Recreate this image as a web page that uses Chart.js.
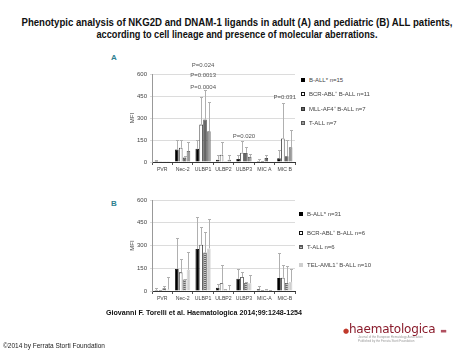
<!DOCTYPE html>
<html><head><meta charset="utf-8">
<script src="https://cdn.jsdelivr.net/npm/chart.js@4"></script>
<style>
html,body{margin:0;padding:0;background:#fff}
body{width:474px;height:355px;position:relative;overflow:hidden;font-family:"Liberation Sans",Arial,sans-serif}
.abs{position:absolute;white-space:nowrap}
.title{font-weight:bold;font-size:10px;color:#111;left:0;width:474px;text-align:center;line-height:12px}
.panel{font-weight:bold;font-size:8px;color:#2f7f8f}
.leg{font-size:6px;color:#444;line-height:8px}
.mk{display:inline-block;width:4px;height:4px;margin-right:4px;vertical-align:middle;box-sizing:border-box}
canvas{position:absolute}
</style></head><body>
<div class="abs title" id="t1" style="top:17px">Phenotypic analysis of NKG2D and DNAM-1 ligands in adult (A) and pediatric (B) ALL patients,</div>
<div class="abs title" id="t2" style="top:29px">according to cell lineage and presence of molecular aberrations.</div>
<div class="abs panel" style="left:111px;top:53px">A</div>
<div class="abs panel" style="left:111px;top:199px">B</div>
<canvas id="cA" width="175" height="125" style="left:125px;top:55px"></canvas>
<canvas id="cB" width="175" height="125" style="left:125px;top:185px"></canvas>
<div id="legA"></div><div id="legB"></div>
<div class="abs" id="cite" style="left:106px;top:308px;font-weight:bold;font-size:8px;color:#111">Giovanni F. Torelli et al. Haematologica 2014;99:1248-1254</div>
<div class="abs" style="left:3px;top:342px;font-size:6.5px;color:#222">©2014 by Ferrata Storti Foundation</div>
<div class="abs" id="logo" style="left:343px;top:322px;font-size:12px;color:#8a1c2c;font-family:'DejaVu Sans',sans-serif;letter-spacing:-0.2px"><span style="color:#c0392b;font-size:7px">●</span>haematologica<span style="color:#b05060;font-size:7px;margin-left:5px">▬</span></div>
<div class="abs" style="left:358px;top:336px;font-size:3px;color:#999;line-height:3.5px">Journal of the European Hematology Association<br>Published by the Ferrata Storti Foundation</div>
<script>
// ---------- DATA ----------
const categoriesA = ['PVR','Nec-2','ULBP1','ULBP2','ULBP3','MIC A','MIC B'];
const categoriesB = ['PVR','Nec-2','ULBP1','ULBP2','ULBP3','MIC-A','MIC-B'];
const yTicks = [0,150,300,450,600];

const seriesNamesA = ['B-ALL* n=15','BCR-ABL\u207A B-ALL n=11','MLL-AF4\u207A B-ALL n=7','T-ALL n=7'];
const bAllA   = [10, 85, 90, 16, 20, 7, 25];
const bcrAblA = [2, 97, 255, 50, 63, 4, 160];
const mllAf4A = [1, 30, 290, 2, 62, 28, 40];
const tAllA   = [2, 75, 210, 16, 35, 3, 100];
const bAllAErr   = [15, 150, 150, 45, 50, 20, 80];
const bcrAblAErr = [2, 150, 440, 135, 145, 5, 400];
const mllAf4AErr = [1, 40, 490, 2, 105, 50, 150];
const tAllAErr   = [2, 135, 410, 45, 55, 3, 220];
const pLabelsA = ['P=0.024','P=0.0013','P=0.0004','P=0.020','P=0.031'];
const pCatsA   = [2, 2, 2, 4, 6];
const pValsA   = [661, 593, 511, 177, 443];

const seriesNamesB = ['B-ALL* n=31','BCR-ABL\u207A B-ALL n=6','T-ALL n=6','TEL-AML1\u207A B-ALL n=10'];
const bAllB    = [7, 145, 277, 21, 81, 11, 85];
const bcrAblB  = [4, 123, 305, 51, 92, 2, 88];
const tAllB    = [18, 76, 254, 12, 53, 7, 53];
const telAmlB  = [10, 140, 281, 5, 51, 4, 60];
const bAllBErr   = [22, 352, 485, 46, 145, 35, 249];
const bcrAblBErr = [6, 210, 423, 173, 127, 5, 173];
const tAllBErr   = [35, 80, 388, 15, 60, 10, 162];
const telAmlBErr = [95, 260, 473, 39, 108, 6, 145];

// ---------- STYLES ----------
function stripes(){
  const c=document.createElement('canvas');c.width=4;c.height=2;
  const x=c.getContext('2d');x.fillStyle='#c4c4c4';x.fillRect(0,0,4,2);
  x.fillStyle='#666';x.fillRect(0,0,4,1);
  return x.createPattern(c,'repeat');
}
const stylesA = [
  {bg:'#000', bd:'#000'},
  {bg:'#fff', bd:'#111'},
  {bg:'#666', bd:'#333'},
  {bg:'#9a9a9a', bd:'#555'}
];
const stylesB = [
  {bg:'#000', bd:'#000'},
  {bg:'#fff', bd:'#111'},
  {bg:stripes(), bd:'#555', css:'repeating-linear-gradient(#666 0 1px,#c4c4c4 1px 2px)'},
  {bg:'#cfcfcf', bd:'#cfcfcf'}
];

const FONT = "'Liberation Sans', Arial, sans-serif";

const errPlugin = {
  id:'errbars',
  afterDatasetsDraw(chart){
    const ctx=chart.ctx, ys=chart.scales.y;
    ctx.save();
    ctx.strokeStyle='#b0b0b0'; ctx.lineWidth=1;
    chart.data.datasets.forEach((ds,di)=>{
      const meta=chart.getDatasetMeta(di);
      meta.data.forEach((el,i)=>{
        const e=ds.errs[i]; if(e==null || e<=ds.data[i]) return;
        const x=Math.round(el.x)+0.5, y0=el.y, y1=Math.round(ys.getPixelForValue(e))+0.5;
        ctx.beginPath(); ctx.moveTo(x,y0); ctx.lineTo(x,y1);
        ctx.moveTo(x-1.5,y1); ctx.lineTo(x+1.5,y1); ctx.stroke();
      });
    });
    const ann=chart.options.plugins.errbars.ann;
    if(ann){
      ctx.fillStyle='#555'; ctx.font='6px '+FONT; ctx.textAlign='center'; ctx.textBaseline='middle';
      const xs=chart.scales.x;
      ann.labels.forEach((t,k)=>{
        ctx.fillText(t, xs.getPixelForValue(ann.cats[k]), ys.getPixelForValue(ann.vals[k]));
      });
    }
    ctx.restore();
  }
};

function makeChart(id, cats, data, errs, names, styles, padTop, xH, ann){
  return new Chart(document.getElementById(id), {
    type:'bar',
    data:{labels:cats, datasets:data.map((d,i)=>({
      label:names[i], data:d, errs:errs[i],
      backgroundColor:styles[i].bg, borderColor:styles[i].bd, borderWidth:0.8,
      categoryPercentage:0.76, barPercentage:0.92
    }))},
    options:{
      responsive:false, animation:false, devicePixelRatio:1,
      layout:{padding:{top:padTop,right:5,left:0,bottom:0}},
      plugins:{legend:{display:false}, tooltip:{enabled:false}, errbars:{ann:ann}},
      scales:{
        x:{
          grid:{offset:true, drawOnChartArea:false, color:'#555', tickLength:3},
          border:{color:'#333'},
          ticks:{font:{size:5.2,family:FONT}, color:'#444', padding:1, maxRotation:0, autoSkip:false},
          afterFit(s){s.height=xH;}
        },
        y:{
          min:0, max:600,
          afterBuildTicks(s){s.ticks=yTicks.map(v=>({value:v}));},
          ticks:{font:{size:6,family:FONT}, color:'#444', padding:3},
          grid:{color:'#dcdcdc', tickLength:2},
          border:{display:true, color:'#999'},
          title:{display:true, text:'MFI', font:{size:6,family:FONT}, color:'#444', padding:{top:4,bottom:0}},
          afterFit(s){s.width=27;}
        }
      }
    },
    plugins:[errPlugin]
  });
}

makeChart('cA', categoriesA, [bAllA,bcrAblA,mllAf4A,tAllA], [bAllAErr,bcrAblAErr,mllAf4AErr,tAllAErr],
  seriesNamesA, stylesA, 19, 18, {labels:pLabelsA, cats:pCatsA, vals:pValsA});
makeChart('cB', categoriesB, [bAllB,bcrAblB,tAllB,telAmlB], [bAllBErr,bcrAblBErr,tAllBErr,telAmlBErr],
  seriesNamesB, stylesB, 15, 19, null);

function legend(id, names, styles, left, tops){
  const el=document.getElementById(id);
  names.forEach((n,i)=>{
    const d=document.createElement('div'); d.className='abs leg';
    d.style.left=left+'px'; d.style.top=(tops[i]-4)+'px'; d.style.color='#444';
    const m=document.createElement('span'); m.className='mk';
    const s=styles[i];
    m.style.background = s.css || s.bg; m.style.border='1px solid '+s.bd;
    d.appendChild(m); d.appendChild(document.createTextNode(n));
    el.appendChild(d);
  });
}
legend('legA', seriesNamesA, stylesA, 301, [80,94,109,123]);
legend('legB', seriesNamesB, stylesB, 299, [214,233,247,265]);

function fitW(id,w){const e=document.getElementById(id);const r=document.createRange();r.selectNodeContents(e);const cw=r.getBoundingClientRect().width;e.style.transform='scaleX('+(w/cw)+')';}
fitW('t1',431); fitW('t2',281);
(function(){const e=document.getElementById('cite');const cw=e.getBoundingClientRect().width;e.style.transformOrigin='left';e.style.transform='scaleX('+(196/cw)+')';})();
</script>
</body></html>
